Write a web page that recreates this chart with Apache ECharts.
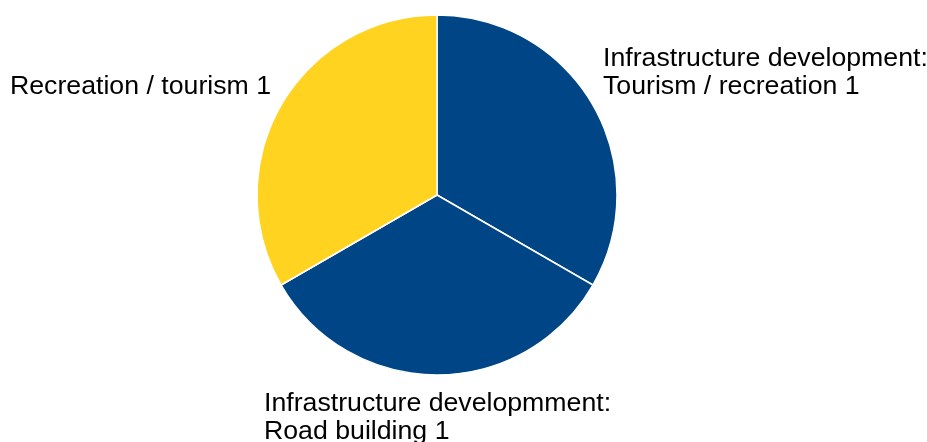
<!DOCTYPE html>
<html>
<head>
<meta charset="utf-8">
<script src="https://cdn.jsdelivr.net/npm/echarts@6/dist/echarts.min.js"></script>
<style>
html,body{margin:0;padding:0;background:#fff;}
#chart{width:927px;height:442px;}
</style>
</head>
<body>
<div id="chart"></div>
<script>
const categories = [
  "Infrastructure development:\nTourism / recreation",
  "Infrastructure developmment:\nRoad building",
  "Recreation / tourism"
];
const values = [1, 1, 1];
const colors = ["#004586", "#004586", "#ffd320"];

// label anchor positions (left edge, vertical middle) in px
const labelPos = [
  {x: 603, y: 73},
  {x: 264, y: 418},
  {x: 10, y: 87}
];

const chart = echarts.init(document.getElementById('chart'), null, {renderer: 'canvas'});
chart.setOption({
  animation: false,
  backgroundColor: '#fff',
  series: [{
    type: 'pie',
    center: [437, 195],
    radius: [0, 180],
    startAngle: 90,
    clockwise: true,
    avoidLabelOverlap: false,
    data: categories.map((c, i) => ({
      name: c,
      value: values[i],
      itemStyle: {color: colors[i]}
    })),
    itemStyle: {borderColor: '#fff', borderWidth: 1.5},
    label: {
      show: true,
      position: 'outside',
      formatter: p => p.name + ' ' + p.value,
      fontFamily: 'Liberation Sans',
      fontSize: 26.7,
      lineHeight: 28,
      color: '#000'
    },
    labelLine: {show: false},
    labelLayout: params => {
      const p = labelPos[params.dataIndex];
      return {x: p.x, y: p.y, align: 'left', verticalAlign: 'middle'};
    },
    emphasis: {disabled: true}
  }]
});
</script>
</body>
</html>
